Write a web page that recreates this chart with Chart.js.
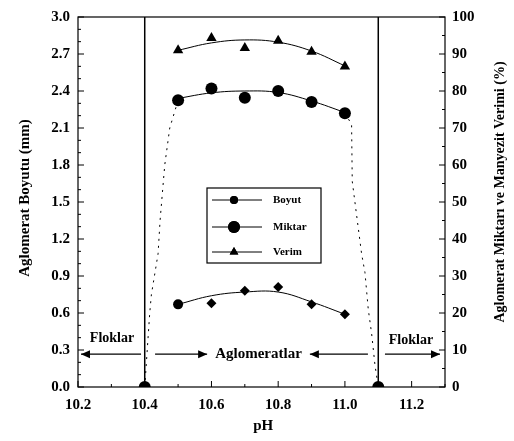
<!DOCTYPE html>
<html>
<head>
<meta charset="utf-8">
<script src="https://cdn.jsdelivr.net/npm/chart.js@4/dist/chart.umd.min.js"></script>
<style>
html,body{margin:0;padding:0;background:#fff;}
#wrap{width:514px;height:441px;position:relative;}
</style>
</head>
<body>
<div id="wrap"><canvas id="c" width="514" height="441"></canvas></div>
<script>
// ---- data ----
const phTicks = [10.2, 10.4, 10.6, 10.8, 11.0, 11.2];
const sizeTicks = [0, 0.3, 0.6, 0.9, 1.2, 1.5, 1.8, 2.1, 2.4, 2.7, 3.0];
const pctTicks = [0, 10, 20, 30, 40, 50, 60, 70, 80, 90, 100];

const phPoints = [10.5, 10.6, 10.7, 10.8, 10.9, 11.0];
const boyut   = [0.67, 0.68, 0.78, 0.81, 0.67, 0.59];
const miktar  = [77.5, 80.7, 78.2, 80.0, 77.0, 74.0];
const verim   = [91.0, 94.3, 91.6, 93.6, 90.6, 86.6];

const boyutFit  = [0.67, 0.74, 0.77, 0.77, 0.69, 0.59];
const miktarFit = [78.0, 79.5, 80.0, 79.6, 77.3, 74.2];
const verimFit  = [91.0, 93.0, 93.8, 93.2, 90.8, 86.8];

const zeroPH = [10.4, 11.1];
const zeroVal = [0, 0];

const leftEdgePH  = [10.4, 10.415, 10.42, 10.44, 10.446, 10.46, 10.475, 10.5];
const leftEdgeVal = [0, 20, 25, 36, 45, 60, 70, 77.5];
const rightEdgePH  = [11.0, 11.02, 11.022, 11.05, 11.06, 11.07, 11.08, 11.09, 11.1];
const rightEdgeVal = [74, 71, 55.6, 36, 31, 21, 14.5, 6, 0];

const boundaryPH = [10.4, 11.1];

const legendLabels = ['Boyut', 'Miktar', 'Verim'];
const xTitle = 'pH';
const yTitle = 'Aglomerat Boyutu (mm)';
const y2Title = 'Aglomerat Miktarı ve Manyezit Verimi (%)';
const regionLabels = ['Floklar', 'Aglomeratlar', 'Floklar'];

// ---- helpers ----
const pts = (xs, ys) => xs.map((x, i) => ({x: x, y: ys[i]}));
const FONT = '"Liberation Serif", "DejaVu Serif", serif';

const boyutStyles = phPoints.map((p, i) => i === 0 ? 'circle' : 'rectRot');

const datasets = [
  {label: legendLabels[0], data: pts(phPoints, boyut), yAxisID: 'y', showLine: false,
   pointStyle: boyutStyles, pointRadius: 5, backgroundColor: '#000', borderColor: '#000', borderWidth: 0},
  {label: legendLabels[1], data: pts(phPoints, miktar), yAxisID: 'y2', showLine: false,
   pointStyle: 'circle', pointRadius: 6, backgroundColor: '#000', borderColor: '#000', borderWidth: 0},
  {label: legendLabels[2], data: pts(phPoints, verim), yAxisID: 'y2', showLine: false,
   pointStyle: 'triangle', pointRadius: 6, backgroundColor: '#000', borderColor: '#000', borderWidth: 0},
  {label: 'zero', data: pts(zeroPH, zeroVal), yAxisID: 'y2', showLine: false,
   pointStyle: 'circle', pointRadius: 6, backgroundColor: '#000', borderColor: '#000', borderWidth: 0},
  {label: 'fitB', data: pts(phPoints, boyutFit), yAxisID: 'y', showLine: true, tension: 0.4,
   pointRadius: 0, borderColor: '#000', borderWidth: 1},
  {label: 'fitM', data: pts(phPoints, miktarFit), yAxisID: 'y2', showLine: true, tension: 0.4,
   pointRadius: 0, borderColor: '#000', borderWidth: 1},
  {label: 'fitV', data: pts(phPoints, verimFit), yAxisID: 'y2', showLine: true, tension: 0.4,
   pointRadius: 0, borderColor: '#000', borderWidth: 1},
  {label: 'edgeL', data: pts(leftEdgePH, leftEdgeVal), yAxisID: 'y2', showLine: true, tension: 0,
   pointRadius: 0, borderColor: '#000', borderWidth: 1, borderDash: [2, 5]},
  {label: 'edgeR', data: pts(rightEdgePH, rightEdgeVal), yAxisID: 'y2', showLine: true, tension: 0,
   pointRadius: 0, borderColor: '#000', borderWidth: 1, borderDash: [2, 5]}
];

function arrow(ctx, x1, y, x2) {
  // line from x1 to x2 with arrowhead at x2
  ctx.beginPath(); ctx.moveTo(x1, y); ctx.lineTo(x2, y); ctx.stroke();
  const d = x2 > x1 ? -1 : 1;
  ctx.beginPath();
  ctx.moveTo(x2, y); ctx.lineTo(x2 + d * 9, y - 4); ctx.lineTo(x2 + d * 9, y + 4); ctx.closePath(); ctx.fill();
}

const decorPlugin = {
  id: 'decor',
  beforeDatasetsDraw(chart) {
    const {ctx, chartArea: a, scales: {x, y, y2}} = chart;
    ctx.save();
    ctx.strokeStyle = '#000';
    // frame
    ctx.lineWidth = 1.2;
    ctx.strokeRect(a.left, a.top, a.right - a.left, a.bottom - a.top);
    // boundaries
    ctx.lineWidth = 1.5;
    boundaryPH.forEach(v => {
      const px = x.getPixelForValue(v);
      ctx.beginPath(); ctx.moveTo(px, a.top); ctx.lineTo(px, a.bottom); ctx.stroke();
    });
    // inward ticks
    ctx.lineWidth = 1;
    for (let i = 0; i <= 11; i++) {
      const v = 10.2 + i * 0.1;
      const px = x.getPixelForValue(v);
      const len = (i % 2 === 0) ? 6 : 3;
      ctx.beginPath(); ctx.moveTo(px, a.bottom); ctx.lineTo(px, a.bottom - len); ctx.stroke();
    }
    for (let i = 0; i <= 30; i++) {
      const py = y.getPixelForValue(i * 0.1);
      const len = (i % 3 === 0) ? 6 : 3;
      ctx.beginPath(); ctx.moveTo(a.left, py); ctx.lineTo(a.left + len, py); ctx.stroke();
    }
    for (let i = 0; i <= 20; i++) {
      const py = y2.getPixelForValue(i * 5);
      const len = (i % 2 === 0) ? 6 : 3;
      ctx.beginPath(); ctx.moveTo(a.right, py); ctx.lineTo(a.right - len, py); ctx.stroke();
    }
    ctx.restore();
  },
  afterDraw(chart) {
    const {ctx, chartArea: a, scales: {x, y, y2}} = chart;
    ctx.save();
    ctx.fillStyle = '#000'; ctx.strokeStyle = '#000';
    // axis titles
    ctx.font = 'bold 15px ' + FONT;
    ctx.textAlign = 'center'; ctx.textBaseline = 'middle';
    ctx.save(); ctx.translate(25, 198); ctx.rotate(-Math.PI / 2); ctx.fillText(yTitle, 0, 0); ctx.restore();
    ctx.font = 'bold 14px ' + FONT;
    ctx.save(); ctx.translate(500, 192); ctx.rotate(-Math.PI / 2); ctx.fillText(y2Title, 0, 0); ctx.restore();
    ctx.font = 'bold 15px ' + FONT;
    ctx.fillText(xTitle, x.getPixelForValue(10.755), 426);

    // region annotations
    ctx.lineWidth = 1.3;
    const ay = y.getPixelForValue(0.266);
    ctx.font = 'bold 14px ' + FONT;
    ctx.fillText(regionLabels[0], x.getPixelForValue(10.302), y.getPixelForValue(0.395));
    arrow(ctx, x.getPixelForValue(10.389), ay, x.getPixelForValue(10.209));
    ctx.fillText(regionLabels[2], x.getPixelForValue(11.198), y.getPixelForValue(0.38));
    arrow(ctx, x.getPixelForValue(11.12), ay, x.getPixelForValue(11.285));
    ctx.font = 'bold 15px ' + FONT;
    ctx.fillText(regionLabels[1], x.getPixelForValue(10.741), ay);
    arrow(ctx, x.getPixelForValue(10.431), ay, x.getPixelForValue(10.587));
    arrow(ctx, x.getPixelForValue(11.069), ay, x.getPixelForValue(10.895));

    // legend box
    const lx = 207, ly = 188, lw = 114, lh = 75;
    ctx.lineWidth = 1.2;
    ctx.strokeRect(lx, ly, lw, lh);
    const rows = [200, 227, 252];
    const styles = ['circle', 'circle', 'triangle'];
    const radii = [4, 6, 5];
    ctx.font = 'bold 11px ' + FONT;
    ctx.textAlign = 'left';
    rows.forEach((ry, i) => {
      ctx.lineWidth = 1;
      ctx.beginPath(); ctx.moveTo(lx + 5, ry); ctx.lineTo(lx + 55, ry); ctx.stroke();
      Chart.helpers.drawPoint(ctx, {pointStyle: styles[i], radius: radii[i], borderWidth: 0}, lx + 27, ry);
      ctx.fill();
      ctx.fillText(legendLabels[i], lx + 66, ry);
    });
    ctx.restore();
  }
};

const tickFont = {family: FONT, size: 15, weight: 'bold'};

new Chart(document.getElementById('c'), {
  type: 'scatter',
  data: {datasets: datasets},
  options: {
    responsive: false,
    animation: false,
    events: [],
    layout: {padding: {top: 15, left: 0, right: 0, bottom: 0}},
    plugins: {legend: {display: false}, tooltip: {enabled: false}},
    scales: {
      x: {
        type: 'linear', min: 10.2, max: 11.3,
        afterBuildTicks: s => { s.ticks = phTicks.map(v => ({value: v})); },
        afterFit: s => { s.height = 54; },
        grid: {display: false, drawTicks: false},
        border: {display: false},
        ticks: {color: '#000', font: tickFont, padding: 9, maxRotation: 0,
                callback: v => v.toFixed(1)}
      },
      y: {
        type: 'linear', position: 'left', min: 0, max: 3.0,
        afterBuildTicks: s => { s.ticks = sizeTicks.map(v => ({value: v})); },
        afterFit: s => { s.width = 78; },
        grid: {display: false, drawTicks: false},
        border: {display: false},
        ticks: {color: '#000', font: tickFont, padding: 8, callback: v => v.toFixed(1)}
      },
      y2: {
        type: 'linear', position: 'right', min: 0, max: 100,
        afterBuildTicks: s => { s.ticks = pctTicks.map(v => ({value: v})); },
        afterFit: s => { s.width = 69; },
        grid: {display: false, drawTicks: false},
        border: {display: false},
        ticks: {color: '#000', font: tickFont, padding: 7, callback: v => String(v)}
      }
    }
  },
  plugins: [decorPlugin]
});
</script>
</body>
</html>
